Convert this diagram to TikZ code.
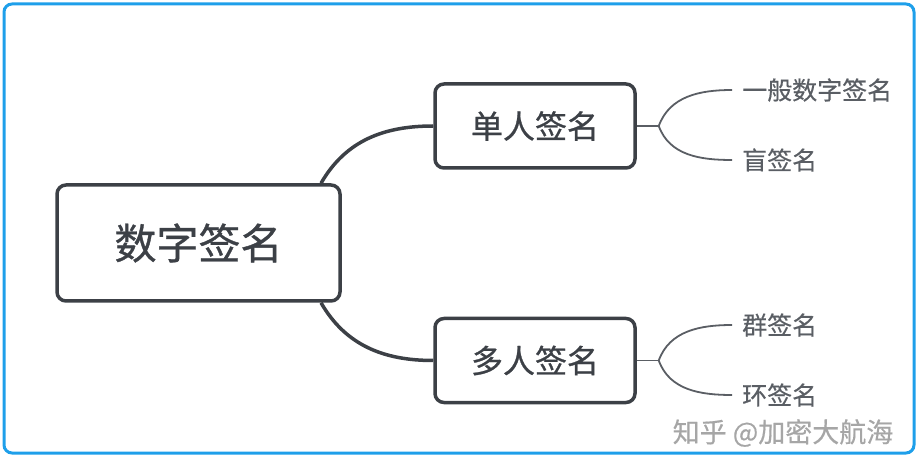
\documentclass[tikz,border=0pt]{standalone}
\usepackage{fontspec}
\newfontfamily\cjk[FakeBold=0.8]{Noto Sans CJK SC}
\newfontfamily\cjkleaf[FakeBold=0.4]{Noto Sans CJK SC}
\definecolor{frameblue}{HTML}{1E9FEA}
\definecolor{boxgray}{HTML}{3C4046}
\definecolor{leafgray}{HTML}{5A5E64}

\begin{document}
\begin{tikzpicture}[x=1pt,y=1pt,
  topicbox/.style={draw=boxgray,line width=3.5pt,rounded corners=9pt,text=boxgray,inner sep=0pt},
  leaftext/.style={anchor=west,text=leafgray,inner xsep=10pt,inner ysep=2pt,font=\cjkleaf\fontsize{25}{30}\selectfont},
  trunk/.style={draw=boxgray,line width=3.5pt},
  twig/.style={draw=leafgray,line width=1.8pt}]
\useasboundingbox (0,0) rectangle (920,471);
\draw[frameblue,line width=3pt,rounded corners=8pt] (4,18) rectangle (914,467);
% topics
\node[topicbox,minimum width=283pt,minimum height=116pt,font=\cjk\fontsize{42}{50}\selectfont] (root) at (198.5,228) {数字签名};
\node[topicbox,minimum width=200pt,minimum height=84pt,font=\cjk\fontsize{32}{38}\selectfont] (single) at (535,345) {单人签名};
\node[topicbox,minimum width=200pt,minimum height=84pt,font=\cjk\fontsize{32}{38}\selectfont] (multi) at (535,110.5) {多人签名};
% leaves
\node[leaftext] (general) at (732,381) {一般数字签名};
\node[leaftext] (blind) at (732,311) {盲签名};
\node[leaftext] (group) at (732,146) {群签名};
\node[leaftext] (ring) at (732,76) {环签名};
\coordinate (sfork) at ([xshift=22pt]single.east);
\coordinate (mfork) at ([xshift=22pt]multi.east);
% connectors
\draw[trunk] (root.26.5) to[out=60,in=180] (single.west);
\draw[trunk] (root.-26.5) to[out=-60,in=180] (multi.west);
\draw[twig] (single.east) -- (sfork);
\draw[twig] (sfork) to[out=70,in=180] (general.west);
\draw[twig] (sfork) to[out=-70,in=180] (blind.west);
\draw[twig] (multi.east) -- (mfork);
\draw[twig] (mfork) to[out=70,in=180] (group.west);
\draw[twig] (mfork) to[out=-70,in=180] (ring.west);
\node[text=black!35,font=\cjkleaf\fontsize{27}{32}\selectfont] (mark) at (783,38) {知乎 @加密大航海};
\end{tikzpicture}
\end{document}
